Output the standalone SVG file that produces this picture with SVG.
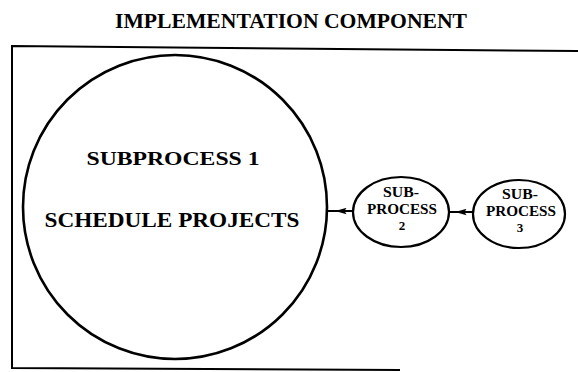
<svg xmlns="http://www.w3.org/2000/svg" width="578" height="372" viewBox="0 0 578 372">
<defs>
<style>
.t{font-family:"Liberation Serif","Times New Roman",serif;font-weight:bold;fill:#000;text-anchor:middle}
.shape{fill:#fff;stroke:#000}
.conn{fill:none;stroke:#000;stroke-width:2}
</style>
<marker id="ah" viewBox="0 -3.5 11 7" refX="5.5" refY="0" markerWidth="11" markerHeight="7" markerUnits="userSpaceOnUse" orient="auto">
<path d="M0,0 L11,-3.2 L9,0 L11,3.2 z" fill="#000"/>
</marker>
</defs>
<rect width="578" height="372" fill="#fff"/>
<text class="t" x="291" y="28" font-size="21" textLength="352" lengthAdjust="spacingAndGlyphs">IMPLEMENTATION COMPONENT</text>
<g id="frame">
<path d="M578,51 L12,46 L12,368 L400,370" fill="none" stroke="#000" stroke-width="2"/>
</g>
<g id="connectors">
<polyline class="conn" points="327,211 341,211 353,211" marker-mid="url(#ah)"/>
<polyline class="conn" points="449,212 461,212 473,212" marker-mid="url(#ah)"/>
</g>
<g id="node-subprocess1">
<ellipse class="shape" cx="175" cy="207" rx="152" ry="152" stroke-width="2.6"/>
<text class="t" x="173" y="165" font-size="19" textLength="173" lengthAdjust="spacingAndGlyphs">SUBPROCESS 1</text>
<text class="t" x="172" y="227" font-size="21" textLength="255" lengthAdjust="spacingAndGlyphs">SCHEDULE PROJECTS</text>
</g>
<g id="node-subprocess2">
<ellipse class="shape" cx="401" cy="212" rx="48" ry="35" stroke-width="2.2"/>
<text class="t" x="401" y="197" font-size="14" textLength="36" lengthAdjust="spacingAndGlyphs">SUB-</text>
<text class="t" x="402" y="214" font-size="15" textLength="70" lengthAdjust="spacingAndGlyphs">PROCESS</text>
<text class="t" x="402" y="230" font-size="13">2</text>
</g>
<g id="node-subprocess3">
<ellipse class="shape" cx="519" cy="214" rx="46" ry="34" stroke-width="2.2"/>
<text class="t" x="520" y="199" font-size="14" textLength="36" lengthAdjust="spacingAndGlyphs">SUB-</text>
<text class="t" x="521" y="216" font-size="15" textLength="70" lengthAdjust="spacingAndGlyphs">PROCESS</text>
<text class="t" x="520" y="232" font-size="13">3</text>
</g>
</svg>
